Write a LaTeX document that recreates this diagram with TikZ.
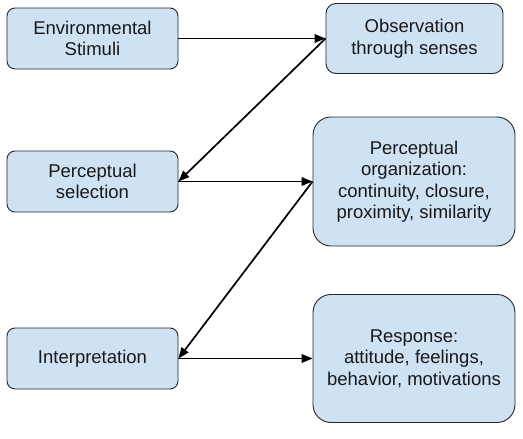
\documentclass[tikz,border=0pt]{standalone}
\usepackage{fontspec}
\setmainfont{Liberation Sans}
\usetikzlibrary{arrows.meta}
\definecolor{boxfill}{HTML}{CFE2F3}
\begin{document}
\begin{tikzpicture}[x=1pt,y=-1pt,
  box/.style={draw=black!85, line width=0.9pt, fill=boxfill, align=center,
    font=\fontsize{18.5}{21.5}\selectfont, inner sep=0pt, text=black!90},
  conn/.style={line width=1.7pt, -{Triangle[length=11pt,width=8.5pt]}}]
\useasboundingbox (0,0) rectangle (523,439);
\node[box, rounded corners=8pt, minimum width=171pt, minimum height=61pt] (env) at (92.5,38.5) {Environmental\\Stimuli};
\node[box, rounded corners=10pt, minimum width=177pt, minimum height=70pt] (obs) at (414.5,38.5) {Observation\\through senses};
\node[box, rounded corners=8pt, minimum width=171pt, minimum height=61pt] (ps) at (92.5,181.5) {Perceptual\\selection};
\node[box, rounded corners=18pt, minimum width=202pt, minimum height=129pt] (po) at (414,181.5) {Perceptual\\organization:\\continuity, closure,\\proximity, similarity};
\node[box, rounded corners=8pt, minimum width=171pt, minimum height=61pt] (interp) at (92.5,358.5) {Interpretation};
\node[box, rounded corners=18pt, minimum width=202pt, minimum height=128pt] (resp) at (414,358.5) {Response:\\attitude, feelings,\\behavior, motivations};
\draw[conn] (env.east) -- (obs.west);
\draw[conn] (obs.west) -- (ps.east);
\draw[conn] (ps.east) -- (po.west);
\draw[conn] (po.west) -- (interp.east);
\draw[conn] (interp.east) -- (resp.west);
\end{tikzpicture}
\end{document}
